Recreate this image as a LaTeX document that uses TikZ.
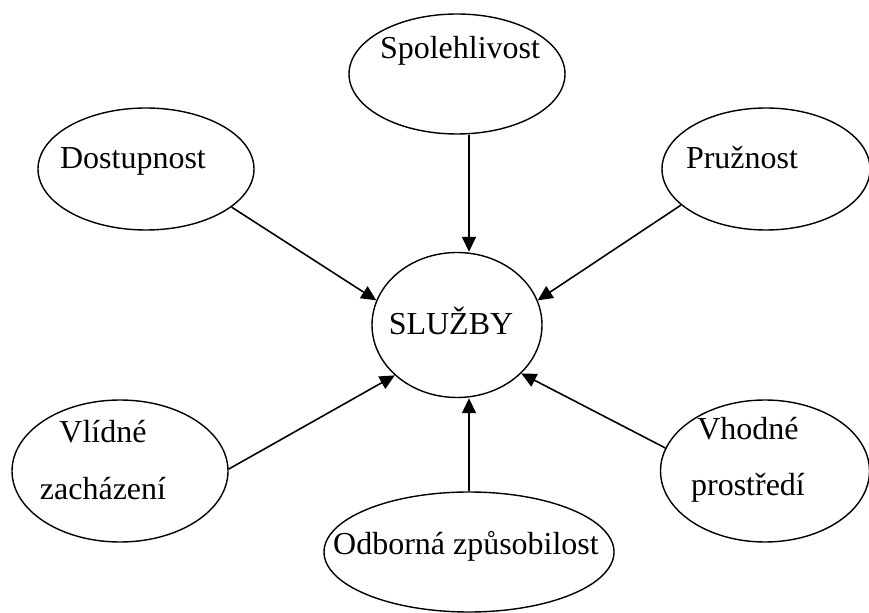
\documentclass[tikz,border=0pt]{standalone}
\usepackage{fontspec}
\setmainfont{Liberation Serif}
\usetikzlibrary{shapes.geometric,arrows.meta}

\begin{document}
\begin{tikzpicture}[
      bubble/.style={draw, ellipse, line width=0.8pt, inner sep=0pt},
      word/.style={font=\fontsize{18.2}{32}\selectfont, align=center, inner sep=0pt},
      arrow/.style={-{Triangle[length=3mm, width=2.8mm]}, line width=0.9pt},
  ]
    \useasboundingbox (0,0) rectangle (17.38,12.24);

    % ellipses
    \node[bubble, minimum width=3.4cm,  minimum height=2.9cm]  (sluz) at (9.14,5.74) {};
    \node[bubble, minimum width=4.32cm, minimum height=2.4cm]  (spol) at (9.14,10.76) {};
    \node[bubble, minimum width=4.32cm, minimum height=2.44cm] (dost) at (2.92,8.86) {};
    \node[bubble, minimum width=4.16cm, minimum height=2.44cm] (pruz) at (15.32,8.86) {};
    \node[bubble, minimum width=4.32cm, minimum height=2.84cm] (vlid) at (2.40,2.82) {};
    \node[bubble, minimum width=4.18cm, minimum height=2.84cm] (vhod) at (15.30,2.82) {};
    \node[bubble, minimum width=5.8cm,  minimum height=2.4cm]  (odb)  at (9.38,1.20) {};

    % texts
    \node[word, anchor=base] (t-sluz) at (9.02,5.54)  {SLUŽBY};
    \node[word, anchor=base] (t-spol) at (9.20,11.06) {Spolehlivost};
    \node[word, anchor=base] (t-dost) at (2.66,8.86)  {Dostupnost};
    \node[word, anchor=base] (t-pruz) at (14.84,8.86) {Pružnost};
    \node[word] (t-vlid) at (2.06,3.04)  {Vlídné\\zacházení};
    \node[word] (t-vhod) at (14.96,3.04) {Vhodné\\prostředí};
    \node[word, anchor=base] (t-odb)  at (9.32,1.16)  {Odborná způsobilost};

    % arrows
    \draw[arrow] (dost.-24) -- (sluz.163);
    \draw[arrow] (spol.south -| odb.north) -- (sluz.north -| odb.north);
    \draw[arrow] (pruz.-157) -- (sluz.17);
    \draw[arrow] (vlid.1) -- (sluz.219);
    \draw[arrow] (odb.north) -- (sluz.south -| odb.north);
    \draw[arrow] (vhod.167) -- (sluz.-37);
  \end{tikzpicture}
\end{document}
